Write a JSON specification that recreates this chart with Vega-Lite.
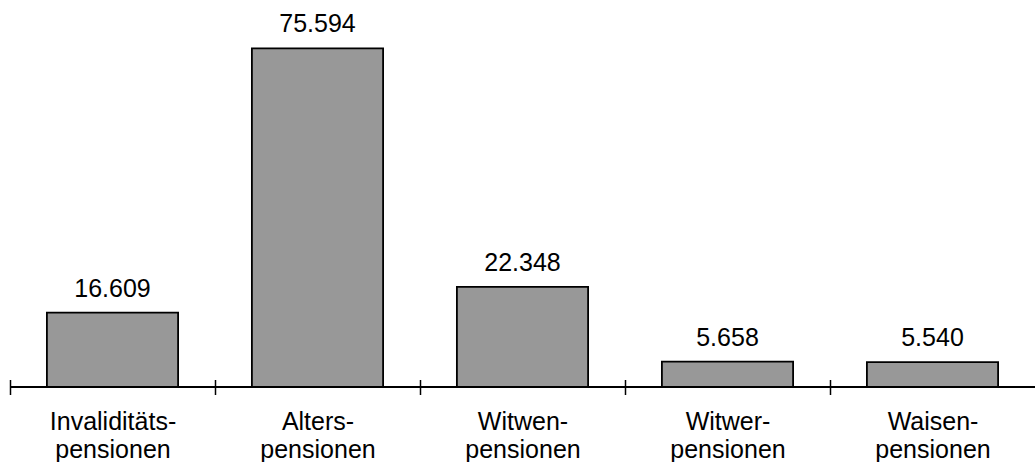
{
  "$schema": "https://vega.github.io/schema/vega-lite/v6.json",
  "width": 1025,
  "height": 387,
  "autosize": "none",
  "padding": {"left": 10, "top": 0, "right": 0, "bottom": 75},
  "background": "white",
  "config": {
    "view": {"stroke": null},
    "font": "Liberation Sans",
    "locale": {"number": {"decimal": ",", "thousands": ".", "grouping": [3], "currency": ["", " €"]}}
  },
  "data": {
    "values": [
      {"kategorie": "Invaliditäts-\npensionen", "anzahl": 16609},
      {"kategorie": "Alters-\npensionen", "anzahl": 75594},
      {"kategorie": "Witwen-\npensionen", "anzahl": 22348},
      {"kategorie": "Witwer-\npensionen", "anzahl": 5658},
      {"kategorie": "Waisen-\npensionen", "anzahl": 5540}
    ]
  },
  "layer": [
    {
      "mark": {"type": "bar", "fill": "#989898", "stroke": "black", "strokeWidth": 1.8},
      "encoding": {
        "x": {
          "field": "kategorie",
          "type": "nominal",
          "sort": null,
          "scale": {"paddingInner": 0.36, "paddingOuter": 0.18},
          "axis": {
            "title": null,
            "domain": false,
            "offset": -7.5,
            "tickSize": 15,
            "tickWidth": 1.5,
            "tickColor": "black",
            "tickOffset": -102.5,
            "labelOffset": 102.5,
            "labelAngle": 0,
            "labelFont": "Liberation Sans",
            "labelFontSize": 25,
            "labelColor": "black",
            "labelBaseline": "alphabetic",
            "labelPadding": 35,
            "labelLineHeight": 28,
            "labelExpr": "split(datum.label, '\\n')"
          }
        },
        "y": {
          "field": "anzahl",
          "type": "quantitative",
          "scale": {"domain": [0, 86400], "nice": false, "zero": true},
          "axis": null
        }
      }
    },
    {
      "mark": {"type": "text", "baseline": "alphabetic", "dy": -16, "fontSize": 25, "font": "Liberation Sans", "color": "black"},
      "encoding": {
        "x": {"field": "kategorie", "type": "nominal", "sort": null},
        "y": {"field": "anzahl", "type": "quantitative"},
        "text": {"field": "anzahl", "type": "quantitative", "format": ",.0f"}
      }
    },
    {
      "mark": {"type": "rule", "stroke": "black", "strokeWidth": 2},
      "encoding": {"y": {"datum": 0}}
    }
  ]
}
